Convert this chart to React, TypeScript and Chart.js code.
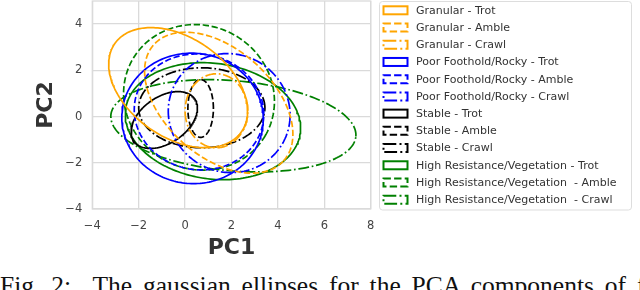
import React, { useEffect, useRef } from "react";
import { Chart, registerables } from "chart.js";

Chart.register(...registerables);

// ---- data ----
const seriesLabels = [
  "Granular - Trot",
  "Granular - Amble",
  "Granular - Crawl",
  "Poor Foothold/Rocky - Trot",
  "Poor Foothold/Rocky - Amble",
  "Poor Foothold/Rocky - Crawl",
  "Stable - Trot",
  "Stable - Amble",
  "Stable - Crawl",
  "High Resistance/Vegetation - Trot",
  "High Resistance/Vegetation  - Amble",
  "High Resistance/Vegetation  - Crawl",
];
const seriesColors = [
  "#FFA500", "#FFA500", "#FFA500",
  "#0000FF", "#0000FF", "#0000FF",
  "#000000", "#000000", "#000000",
  "#008000", "#008000", "#008000",
];
const seriesStyles = [
  "solid", "dashed", "dashdot",
  "solid", "dashed", "dashdot",
  "solid", "dashed", "dashdot",
  "solid", "dashed", "dashdot",
];
// ellipse centre, semi-axes and rotation (degrees)
const centerX = [-0.3, 1.45, 1.35, 0.32, 0.6, 1.9, -0.9, 0.67, 0.72, 1.2, 0.6, 2.08];
const centerY = [1.25, 0.6, 0.25, -0.08, 0.2, 0.15, -0.15, 0.35, 0.38, -0.2, 0.83, -0.4];
const semiAxisA = [3.33, 3.76, 1.35, 3.05, 2.8, 2.65, 1.6, 0.55, 2.72, 3.8, 3.3, 5.3];
const semiAxisB = [2.15, 2.32, 1.6, 2.82, 2.5, 2.55, 1.0, 1.25, 1.73, 2.5, 3.1, 1.95];
const angleDeg = [-35, -42, 0, -5, -10, -30, 35, 0, 0, -8, -30, -5];

const xTicks = [-4, -2, 0, 2, 4, 6, 8];
const yTicks = [-4, -2, 0, 2, 4];
const xLimits = [-4, 8];
const yLimits = [-4, 5];
const xTitle = "PC1";
const yTitle = "PC2";
const caption = "Fig. 2:  The gaussian ellipses for the PCA components of f";

// ---- helpers ----
const LW = 1.7;
function dashFor(style: string, lw: number): number[] {
  if (style === "dashed") return [3.7 * lw, 1.6 * lw];
  if (style === "dashdot") return [6.4 * lw, 1.6 * lw, 1 * lw, 1.6 * lw];
  return [];
}

function ellipseOutline(i: number) {
  const n = 200;
  const t = (angleDeg[i] * Math.PI) / 180;
  const pts: { x: number; y: number }[] = [];
  for (let k = 0; k <= n; k++) {
    const p = (2 * Math.PI * k) / n;
    const ex = semiAxisA[i] * Math.cos(p);
    const ey = semiAxisB[i] * Math.sin(p);
    pts.push({
      x: centerX[i] + ex * Math.cos(t) - ey * Math.sin(t),
      y: centerY[i] + ex * Math.sin(t) + ey * Math.cos(t),
    });
  }
  return pts;
}

const fmt = (v: number) => (v < 0 ? "\u2212" + Math.abs(v) : String(v));
const GRID = "#dadada";

const framePlugin = {
  id: "frame",
  beforeDatasetsDraw(chart: any) {
    const { ctx, chartArea } = chart;
    ctx.save();
    ctx.strokeStyle = GRID;
    ctx.lineWidth = 1.3;
    ctx.strokeRect(chartArea.left, chartArea.top, chartArea.right - chartArea.left, chartArea.bottom - chartArea.top);
    ctx.restore();
  },
};

const legendPlugin = {
  id: "boxLegend",
  afterDraw(chart: any) {
    const ctx = chart.ctx;
    ctx.save();
    const fx = 379.5, fy = 1.5, fw = 252, fh = 208.5, r = 3;
    ctx.beginPath();
    ctx.moveTo(fx + r, fy);
    ctx.lineTo(fx + fw - r, fy);
    ctx.arcTo(fx + fw, fy, fx + fw, fy + r, r);
    ctx.lineTo(fx + fw, fy + fh - r);
    ctx.arcTo(fx + fw, fy + fh, fx + fw - r, fy + fh, r);
    ctx.lineTo(fx + r, fy + fh);
    ctx.arcTo(fx, fy + fh, fx, fy + fh - r, r);
    ctx.lineTo(fx, fy + r);
    ctx.arcTo(fx, fy, fx + r, fy, r);
    ctx.closePath();
    ctx.fillStyle = "#ffffff";
    ctx.fill();
    ctx.strokeStyle = "#dddddd";
    ctx.lineWidth = 1;
    ctx.stroke();
    ctx.font = "11px 'DejaVu Sans'";
    ctx.textBaseline = "middle";
    ctx.textAlign = "left";
    chart.data.datasets.forEach((ds: any, i: number) => {
      const cy = 10.3 + i * 17.22;
      ctx.strokeStyle = ds.borderColor;
      ctx.lineWidth = 2;
      ctx.setLineDash(dashFor(seriesStyles[i], 2));
      ctx.strokeRect(383.5, cy - 4, 24, 8);
      ctx.setLineDash([]);
      ctx.fillStyle = "#333333";
      ctx.fillText(ds.label, 416, cy + 0.5);
    });
    ctx.restore();
  },
};

export default function App() {
  const ref = useRef<HTMLCanvasElement | null>(null);

  useEffect(() => {
    if (!ref.current) return;
    const datasets = seriesLabels.map((label, i) => ({
      label,
      data: ellipseOutline(i),
      showLine: true,
      fill: false,
      borderColor: seriesColors[i],
      backgroundColor: seriesColors[i],
      borderWidth: LW,
      borderDash: dashFor(seriesStyles[i], LW),
      pointRadius: 0,
      pointHoverRadius: 0,
      tension: 0,
    }));

    const chart = new Chart(ref.current, {
      type: "scatter",
      data: { datasets },
      options: {
        animation: false,
        responsive: false,
        maintainAspectRatio: false,
        layout: { padding: { left: 33.5, right: 269.3, top: 1, bottom: 2 } },
        plugins: { legend: { display: false }, tooltip: { enabled: false } },
        scales: {
          x: {
            type: "linear",
            min: xLimits[0],
            max: xLimits[1],
            afterBuildTicks: (s: any) => {
              s.ticks = xTicks.map((v) => ({ value: v }));
            },
            afterFit: (s: any) => {
              s.height = 52;
              s.paddingLeft = 0;
              s.paddingRight = 0;
            },
            ticks: {
              padding: 10,
              color: "#444444",
              font: { family: "'DejaVu Sans'", size: 11.5 },
              callback: (v: any) => fmt(Number(v)),
              maxRotation: 0,
            },
            grid: { color: GRID, lineWidth: 1.3, drawTicks: false },
            border: { display: false },
            title: {
              display: true,
              text: xTitle,
              color: "#333333",
              font: { family: "'DejaVu Sans'", size: 22, weight: "bold" },
              padding: 0,
            },
          },
          y: {
            type: "linear",
            min: yLimits[0],
            max: yLimits[1],
            afterBuildTicks: (s: any) => {
              s.ticks = yTicks.map((v) => ({ value: v }));
            },
            afterFit: (s: any) => {
              s.width = 92.3 - 33.5;
              s.paddingTop = 0;
              s.paddingBottom = 0;
            },
            ticks: {
              padding: 10,
              color: "#444444",
              font: { family: "'DejaVu Sans'", size: 11.5 },
              callback: (v: any) => fmt(Number(v)),
            },
            grid: { color: GRID, lineWidth: 1.3, drawTicks: false },
            border: { display: false },
            title: {
              display: true,
              text: yTitle,
              color: "#333333",
              font: { family: "'DejaVu Sans'", size: 22, weight: "bold" },
              padding: 0,
            },
          },
        },
      },
      plugins: [framePlugin, legendPlugin],
    });
    return () => chart.destroy();
  }, []);

  return (
    <div style={{ position: "fixed", left: 0, top: 0, width: 640, height: 290, overflow: "hidden", background: "#fff" }}>
      <canvas ref={ref} width={640} height={263} style={{ position: "absolute", left: 0, top: 0, width: 640, height: 263 }} />
      <div
        style={{
          position: "absolute",
          left: 0,
          top: 273,
          fontFamily: "'Liberation Serif', serif",
          fontSize: 25.5,
          lineHeight: "25.5px",
          whiteSpace: "pre",
          color: "#111",
          wordSpacing: 4.5,
        }}
      >
        {caption}
      </div>
    </div>
  );
}
